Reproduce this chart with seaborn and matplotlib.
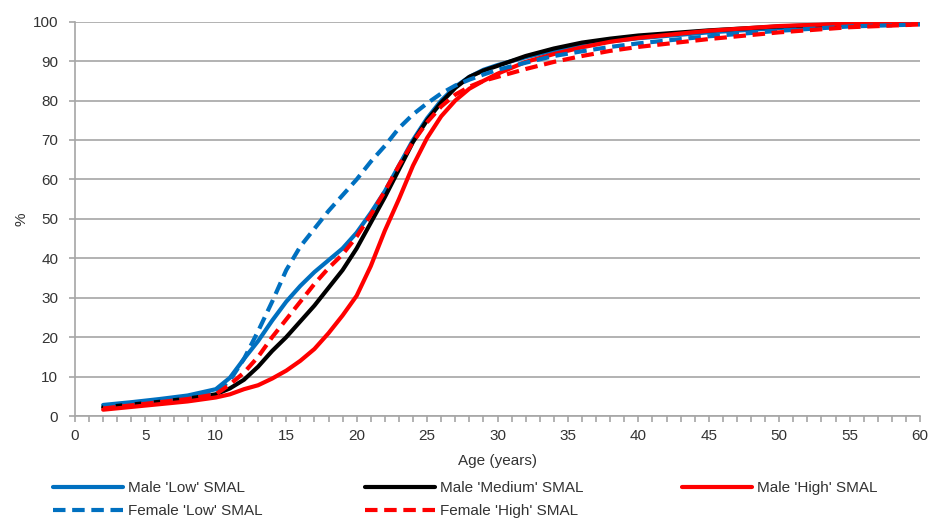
import pandas as pd
import matplotlib.pyplot as plt
import seaborn as sns
from matplotlib.lines import Line2D
from matplotlib.ticker import MultipleLocator

ages = [2, 4, 6, 8, 10, 11, 12, 13, 14, 15, 16, 17, 18, 19, 20, 21, 22, 23, 24, 25,
        26, 27, 28, 29, 30, 32, 34, 36, 38, 40, 45, 50, 55, 60]

male_low = [2.8, 3.5, 4.3, 5.2, 6.8, 9.7, 14.5, 19.0, 24.2, 29.0, 33.0, 36.5, 39.5, 42.5, 46.5,
            51.5, 57.0, 63.5, 70.0, 75.5, 80.0, 83.5, 86.0, 87.8, 89.0, 91.0, 92.7, 94.0, 95.0,
            95.8, 97.3, 98.4, 99.2, 99.6]
male_medium = [2.2, 2.9, 3.6, 4.4, 5.5, 7.0, 9.2, 12.5, 16.5, 20.0, 24.0, 28.0, 32.5, 37.0, 42.5,
               49.0, 55.5, 62.5, 69.5, 75.0, 79.5, 83.2, 86.0, 87.6, 88.8, 91.3, 93.2, 94.7, 95.7,
               96.5, 97.8, 98.8, 99.4, 99.7]
male_high = [1.6, 2.3, 3.0, 3.7, 4.7, 5.5, 6.8, 7.8, 9.5, 11.5, 14.0, 17.0, 21.0, 25.5, 30.5,
             38.0, 47.0, 55.0, 63.5, 70.5, 76.0, 80.0, 83.0, 85.0, 86.8, 89.8, 91.8, 93.5, 94.9,
             95.9, 97.7, 98.9, 99.5, 99.8]
female_low = [2.5, 3.3, 4.0, 4.8, 6.0, 9.0, 14.5, 21.5, 29.0, 37.0, 43.0, 47.5, 52.0, 56.0, 60.0,
              64.5, 68.5, 73.0, 76.5, 79.3, 81.8, 83.8, 85.3, 86.6, 87.8, 89.6, 91.3, 92.5, 93.6,
              94.5, 96.3, 97.7, 98.8, 99.3]
female_high = [1.9, 2.7, 3.5, 4.3, 5.5, 8.0, 11.0, 15.0, 20.0, 24.5, 29.0, 33.5, 37.5, 41.0, 45.5,
               51.0, 57.0, 63.5, 69.5, 74.5, 78.5, 81.5, 83.5, 85.0, 86.0, 88.0, 89.8, 91.3, 92.6,
               93.6, 95.6, 97.3, 98.6, 99.3]

series = {
    "Male 'Low' SMAL": male_low,
    "Male 'Medium' SMAL": male_medium,
    "Male 'High' SMAL": male_high,
    "Female 'Low' SMAL": female_low,
    "Female 'High' SMAL": female_high,
}
order = list(series.keys())

blue = '#0070C0'
red = '#FF0000'
colors = {order[0]: blue, order[1]: 'black', order[2]: red, order[3]: blue, order[4]: red}
dash = (3, 1.6)
dashes = {order[0]: '', order[1]: '', order[2]: '', order[3]: dash, order[4]: dash}

df = pd.concat([pd.DataFrame({'age': ages, 'pct': v, 'series': k}) for k, v in series.items()])

sns.set_style('white')
plt.rcParams['font.family'] = ['Liberation Sans', 'DejaVu Sans']
plt.rcParams['font.size'] = 11

fig = plt.figure(figsize=(9.3, 5.19), dpi=100)
ax = fig.add_axes([75 / 930, 1 - 416 / 519, 845 / 930, (416 - 21.7) / 519])

sns.lineplot(data=df, x='age', y='pct', hue='series', style='series', hue_order=order,
             style_order=order, palette=colors, dashes=dashes, linewidth=3, ax=ax,
             legend=False)

grey = '#A6A6A6'
text_c = '#333333'
ax.set_xlim(0, 60)
ax.set_ylim(0, 100)
ax.xaxis.set_major_locator(MultipleLocator(5))
ax.xaxis.set_minor_locator(MultipleLocator(1))
ax.yaxis.set_major_locator(MultipleLocator(10))
ax.grid(axis='y', color=grey, linewidth=1.2)
ax.set_axisbelow(True)
for s in ['top', 'right']:
    ax.spines[s].set_visible(False)
for s in ['left', 'bottom']:
    ax.spines[s].set_color(grey)
    ax.spines[s].set_linewidth(1.2)
ax.tick_params(axis='both', which='both', direction='out', length=4, width=1.2,
               color=grey, labelsize=11, labelcolor=text_c)
ax.tick_params(axis='x', which='minor', bottom=True)
ax.tick_params(axis='x', which='major', bottom=True, pad=5)
ax.tick_params(axis='y', left=True, pad=8)
ax.set_xlabel('Age (years)', fontsize=11, color=text_c, labelpad=8)
ax.set_ylabel('%', fontsize=11, color=text_c, labelpad=3)

# legend laid out in Excel-style fixed columns
def handle(name):
    ls = '--' if dashes[name] else '-'
    h = Line2D([], [], color=colors[name], linewidth=3, linestyle=ls)
    if dashes[name]:
        h.set_dashes(dash)
    return h

cols = [([order[0], order[3]], 53), ([order[1], order[4]], 365), ([order[2]], 682)]
for names, x0 in cols:
    fig.legend([handle(n) for n in names], names, loc='upper left',
               bbox_to_anchor=(x0 / 930, 1 - 481 / 519), frameon=False, fontsize=11,
               handlelength=4.6, handletextpad=0.33, labelspacing=0.58,
               borderpad=0, borderaxespad=0, labelcolor=text_c)

fig.savefig('out.png', dpi=100)
